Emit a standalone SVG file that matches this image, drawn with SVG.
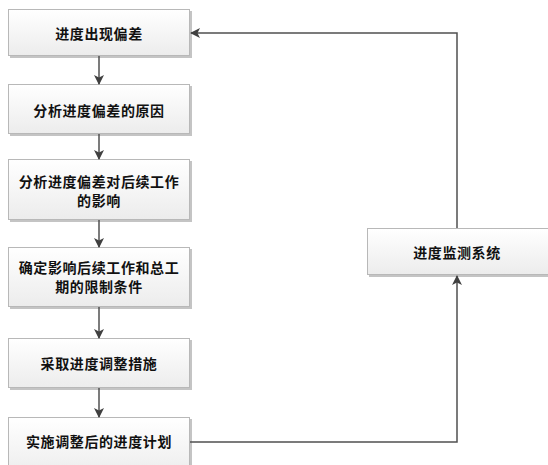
<svg xmlns="http://www.w3.org/2000/svg" width="548" height="465" viewBox="0 0 548 465">
<defs>
<linearGradient id="g" x1="0" y1="0" x2="0" y2="1">
<stop offset="0" stop-color="#ffffff"/>
<stop offset="1" stop-color="#ececec"/>
</linearGradient>
<marker id="ah" markerWidth="10" markerHeight="10" refX="9" refY="5" orient="auto" markerUnits="userSpaceOnUse">
<path d="M0,0 L10,5 L0,10 L2.5,5 Z" fill="#404040"/>
</marker>
</defs>
<style>
.sh{fill:#c4c4c4}
.bx{fill:url(#g);stroke:#b8b8b8;stroke-width:1}
.t{font-family:"Noto Sans CJK SC","Liberation Sans",sans-serif;font-size:14px;letter-spacing:0.6px;font-weight:bold;fill:#111;text-anchor:middle;dominant-baseline:central}
.c{fill:none;stroke:#505050;stroke-width:1.5}
</style>
<rect width="548" height="465" fill="#ffffff"/>
<g id="n1"><rect class="sh" x="10" y="11" width="182" height="47"/><rect class="bx" x="8.5" y="9.5" width="181" height="46"/><text class="t" x="99" y="33">进度出现偏差</text></g>
<g id="n2"><rect class="sh" x="10" y="86" width="182" height="50"/><rect class="bx" x="8.5" y="84.5" width="181" height="49"/><text class="t" x="99" y="110">分析进度偏差的原因</text></g>
<g id="n3"><rect class="sh" x="10" y="161" width="182" height="61"/><rect class="bx" x="8.5" y="159.5" width="181" height="60"/><text class="t" x="99" y="181">分析进度偏差对后续工作</text><text class="t" x="99" y="200">的影响</text></g>
<g id="n4"><rect class="sh" x="10" y="249" width="182" height="60"/><rect class="bx" x="8.5" y="247.5" width="181" height="59"/><text class="t" x="99" y="267">确定影响后续工作和总工</text><text class="t" x="99" y="286">期的限制条件</text></g>
<g id="n5"><rect class="sh" x="10" y="340" width="182" height="50"/><rect class="bx" x="8.5" y="338.5" width="181" height="49"/><text class="t" x="99" y="363">采取进度调整措施</text></g>
<g id="n6"><rect class="sh" x="10" y="419" width="182" height="60"/><rect class="bx" x="8.5" y="417.5" width="181" height="59"/><text class="t" x="99" y="441">实施调整后的进度计划</text></g>
<g id="n7"><rect class="sh" x="369" y="230" width="182" height="47"/><rect class="bx" x="367.5" y="228.5" width="181" height="46"/><text class="t" x="457" y="252">进度监测系统</text></g>
<g id="connectors">
<line class="c" x1="99" y1="56" x2="99" y2="84" marker-end="url(#ah)"/>
<line class="c" x1="99" y1="134" x2="99" y2="159" marker-end="url(#ah)"/>
<line class="c" x1="99" y1="220" x2="99" y2="247" marker-end="url(#ah)"/>
<line class="c" x1="99" y1="307" x2="99" y2="338" marker-end="url(#ah)"/>
<line class="c" x1="99" y1="388" x2="99" y2="417" marker-end="url(#ah)"/>
<polyline class="c" points="190,442 457,442 457,276" marker-end="url(#ah)"/>
<polyline class="c" points="457,228 457,33 191,33" marker-end="url(#ah)"/>
</g>
</svg>
